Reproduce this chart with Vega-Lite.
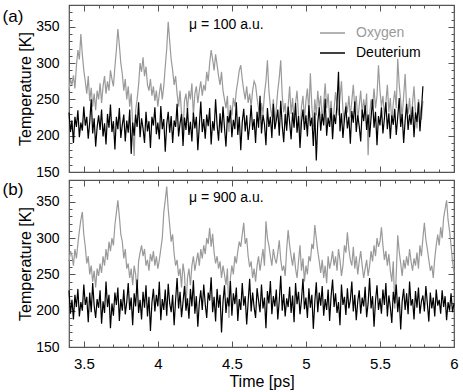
{
"$schema":"https://vega.github.io/schema/vega-lite/v6.json",
"padding":{"left":2,"top":3,"right":8,"bottom":2},
"config":{"font":"Liberation Sans","view":{"stroke":"#555","strokeWidth":1.2},
"axis":{"grid":false,"domain":false,"tickColor":"#555","tickWidth":1,"labelFontSize":15,"titleFontSize":16,"titleFontWeight":"normal","labelColor":"#000","titleColor":"#000","labelFlush":false,"labelOverlap":false,"minExtent":0}},
"datasets":{
"a":[
{"t":3.40,"Oxygen":262,"Deuterium":232},{"t":3.41,"Oxygen":278,"Deuterium":205},{"t":3.42,"Oxygen":270,"Deuterium":221},{"t":3.43,"Oxygen":283,"Deuterium":190},{"t":3.44,"Oxygen":265,"Deuterium":226},{"t":3.45,"Oxygen":296,"Deuterium":212},{"t":3.46,"Oxygen":318,"Deuterium":235},{"t":3.47,"Oxygen":305,"Deuterium":198},{"t":3.48,"Oxygen":340,"Deuterium":218},{"t":3.49,"Oxygen":312,"Deuterium":207},
{"t":3.50,"Oxygen":290,"Deuterium":240},{"t":3.51,"Oxygen":275,"Deuterium":214},{"t":3.52,"Oxygen":258,"Deuterium":226},{"t":3.53,"Oxygen":282,"Deuterium":196},{"t":3.54,"Oxygen":248,"Deuterium":219},{"t":3.55,"Oxygen":266,"Deuterium":250},{"t":3.56,"Oxygen":240,"Deuterium":203},{"t":3.57,"Oxygen":258,"Deuterium":224},{"t":3.58,"Oxygen":235,"Deuterium":185},{"t":3.59,"Oxygen":262,"Deuterium":212},
{"t":3.60,"Oxygen":250,"Deuterium":228},{"t":3.61,"Oxygen":272,"Deuterium":208},{"t":3.62,"Oxygen":245,"Deuterium":236},{"t":3.63,"Oxygen":268,"Deuterium":199},{"t":3.64,"Oxygen":282,"Deuterium":217},{"t":3.65,"Oxygen":258,"Deuterium":188},{"t":3.66,"Oxygen":275,"Deuterium":230},{"t":3.67,"Oxygen":262,"Deuterium":211},{"t":3.68,"Oxygen":290,"Deuterium":243},{"t":3.69,"Oxygen":278,"Deuterium":205},
{"t":3.70,"Oxygen":268,"Deuterium":220},{"t":3.71,"Oxygen":295,"Deuterium":181},{"t":3.72,"Oxygen":318,"Deuterium":226},{"t":3.73,"Oxygen":347,"Deuterium":209},{"t":3.74,"Oxygen":325,"Deuterium":238},{"t":3.75,"Oxygen":300,"Deuterium":197},{"t":3.76,"Oxygen":285,"Deuterium":215},{"t":3.77,"Oxygen":262,"Deuterium":229},{"t":3.78,"Oxygen":278,"Deuterium":192},{"t":3.79,"Oxygen":250,"Deuterium":221},
{"t":3.80,"Oxygen":268,"Deuterium":204},{"t":3.81,"Oxygen":240,"Deuterium":236},{"t":3.82,"Oxygen":258,"Deuterium":175},{"t":3.83,"Oxygen":215,"Deuterium":218},{"t":3.84,"Oxygen":172,"Deuterium":200},{"t":3.85,"Oxygen":235,"Deuterium":229},{"t":3.86,"Oxygen":250,"Deuterium":212},{"t":3.87,"Oxygen":270,"Deuterium":246},{"t":3.88,"Oxygen":300,"Deuterium":198},{"t":3.89,"Oxygen":288,"Deuterium":224},
{"t":3.90,"Oxygen":308,"Deuterium":210},{"t":3.91,"Oxygen":282,"Deuterium":190},{"t":3.92,"Oxygen":295,"Deuterium":233},{"t":3.93,"Oxygen":270,"Deuterium":206},{"t":3.94,"Oxygen":262,"Deuterium":220},{"t":3.95,"Oxygen":278,"Deuterium":183},{"t":3.96,"Oxygen":255,"Deuterium":226},{"t":3.97,"Oxygen":268,"Deuterium":214},{"t":3.98,"Oxygen":248,"Deuterium":239},{"t":3.99,"Oxygen":262,"Deuterium":202},
{"t":4.00,"Oxygen":240,"Deuterium":218},{"t":4.01,"Oxygen":258,"Deuterium":195},{"t":4.02,"Oxygen":272,"Deuterium":241},{"t":4.03,"Oxygen":250,"Deuterium":209},{"t":4.04,"Oxygen":268,"Deuterium":223},{"t":4.05,"Oxygen":295,"Deuterium":178},{"t":4.06,"Oxygen":320,"Deuterium":216},{"t":4.07,"Oxygen":357,"Deuterium":233},{"t":4.08,"Oxygen":330,"Deuterium":204},{"t":4.09,"Oxygen":305,"Deuterium":227},
{"t":4.10,"Oxygen":290,"Deuterium":190},{"t":4.11,"Oxygen":270,"Deuterium":221},{"t":4.12,"Oxygen":282,"Deuterium":212},{"t":4.13,"Oxygen":258,"Deuterium":244},{"t":4.14,"Oxygen":240,"Deuterium":199},{"t":4.15,"Oxygen":262,"Deuterium":217},{"t":4.16,"Oxygen":230,"Deuterium":230},{"t":4.17,"Oxygen":205,"Deuterium":186},{"t":4.18,"Oxygen":248,"Deuterium":225},{"t":4.19,"Oxygen":258,"Deuterium":208},
{"t":4.20,"Oxygen":235,"Deuterium":238},{"t":4.21,"Oxygen":262,"Deuterium":201},{"t":4.22,"Oxygen":250,"Deuterium":219},{"t":4.23,"Oxygen":272,"Deuterium":192},{"t":4.24,"Oxygen":228,"Deuterium":232},{"t":4.25,"Oxygen":258,"Deuterium":210},{"t":4.26,"Oxygen":268,"Deuterium":226},{"t":4.27,"Oxygen":245,"Deuterium":180},{"t":4.28,"Oxygen":262,"Deuterium":214},{"t":4.29,"Oxygen":275,"Deuterium":247},
{"t":4.30,"Oxygen":255,"Deuterium":205},{"t":4.31,"Oxygen":270,"Deuterium":223},{"t":4.32,"Oxygen":262,"Deuterium":196},{"t":4.33,"Oxygen":288,"Deuterium":229},{"t":4.34,"Oxygen":275,"Deuterium":213},{"t":4.35,"Oxygen":300,"Deuterium":238},{"t":4.36,"Oxygen":318,"Deuterium":188},{"t":4.37,"Oxygen":305,"Deuterium":220},{"t":4.38,"Oxygen":290,"Deuterium":207},{"t":4.39,"Oxygen":312,"Deuterium":250},
{"t":4.40,"Oxygen":298,"Deuterium":215},{"t":4.41,"Oxygen":282,"Deuterium":193},{"t":4.42,"Oxygen":270,"Deuterium":231},{"t":4.43,"Oxygen":288,"Deuterium":204},{"t":4.44,"Oxygen":262,"Deuterium":240},{"t":4.45,"Oxygen":250,"Deuterium":211},{"t":4.46,"Oxygen":238,"Deuterium":185},{"t":4.47,"Oxygen":255,"Deuterium":227},{"t":4.48,"Oxygen":205,"Deuterium":218},{"t":4.49,"Oxygen":242,"Deuterium":235},
{"t":4.50,"Oxygen":228,"Deuterium":198},{"t":4.51,"Oxygen":252,"Deuterium":222},{"t":4.52,"Oxygen":240,"Deuterium":209},{"t":4.53,"Oxygen":262,"Deuterium":246},{"t":4.54,"Oxygen":275,"Deuterium":201},{"t":4.55,"Oxygen":290,"Deuterium":226},{"t":4.56,"Oxygen":297,"Deuterium":180},{"t":4.57,"Oxygen":278,"Deuterium":219},{"t":4.58,"Oxygen":262,"Deuterium":237},{"t":4.59,"Oxygen":250,"Deuterium":206},
{"t":4.60,"Oxygen":268,"Deuterium":228},{"t":4.61,"Oxygen":245,"Deuterium":194},{"t":4.62,"Oxygen":258,"Deuterium":214},{"t":4.63,"Oxygen":240,"Deuterium":242},{"t":4.64,"Oxygen":262,"Deuterium":208},{"t":4.65,"Oxygen":275,"Deuterium":223},{"t":4.66,"Oxygen":270,"Deuterium":190},{"t":4.67,"Oxygen":252,"Deuterium":233},{"t":4.68,"Oxygen":238,"Deuterium":211},{"t":4.69,"Oxygen":222,"Deuterium":255},
{"t":4.70,"Oxygen":245,"Deuterium":203},{"t":4.71,"Oxygen":230,"Deuterium":229},{"t":4.72,"Oxygen":258,"Deuterium":216},{"t":4.73,"Oxygen":275,"Deuterium":187},{"t":4.74,"Oxygen":304,"Deuterium":238},{"t":4.75,"Oxygen":262,"Deuterium":212},{"t":4.76,"Oxygen":240,"Deuterium":226},{"t":4.77,"Oxygen":225,"Deuterium":197},{"t":4.78,"Oxygen":250,"Deuterium":244},{"t":4.79,"Oxygen":212,"Deuterium":209},
{"t":4.80,"Oxygen":238,"Deuterium":221},{"t":4.81,"Oxygen":262,"Deuterium":236},{"t":4.82,"Oxygen":280,"Deuterium":200},{"t":4.83,"Oxygen":304,"Deuterium":248},{"t":4.84,"Oxygen":255,"Deuterium":214},{"t":4.85,"Oxygen":232,"Deuterium":191},{"t":4.86,"Oxygen":245,"Deuterium":230},{"t":4.87,"Oxygen":215,"Deuterium":207},{"t":4.88,"Oxygen":240,"Deuterium":240},{"t":4.89,"Oxygen":268,"Deuterium":218},
{"t":4.90,"Oxygen":230,"Deuterium":195},{"t":4.91,"Oxygen":252,"Deuterium":232},{"t":4.92,"Oxygen":218,"Deuterium":211},{"t":4.93,"Oxygen":245,"Deuterium":245},{"t":4.94,"Oxygen":262,"Deuterium":204},{"t":4.95,"Oxygen":228,"Deuterium":227},{"t":4.96,"Oxygen":195,"Deuterium":183},{"t":4.97,"Oxygen":240,"Deuterium":219},{"t":4.98,"Oxygen":255,"Deuterium":236},{"t":4.99,"Oxygen":222,"Deuterium":208},
{"t":5.00,"Oxygen":248,"Deuterium":228},{"t":5.01,"Oxygen":265,"Deuterium":199},{"t":5.02,"Oxygen":232,"Deuterium":242},{"t":5.03,"Oxygen":286,"Deuterium":213},{"t":5.04,"Oxygen":240,"Deuterium":225},{"t":5.05,"Oxygen":212,"Deuterium":186},{"t":5.06,"Oxygen":250,"Deuterium":232},{"t":5.07,"Oxygen":228,"Deuterium":166},{"t":5.08,"Oxygen":262,"Deuterium":218},{"t":5.09,"Oxygen":238,"Deuterium":239},
{"t":5.10,"Oxygen":255,"Deuterium":207},{"t":5.11,"Oxygen":220,"Deuterium":230},{"t":5.12,"Oxygen":245,"Deuterium":214},{"t":5.13,"Oxygen":272,"Deuterium":251},{"t":5.14,"Oxygen":238,"Deuterium":200},{"t":5.15,"Oxygen":258,"Deuterium":225},{"t":5.16,"Oxygen":225,"Deuterium":212},{"t":5.17,"Oxygen":248,"Deuterium":238},{"t":5.18,"Oxygen":212,"Deuterium":195},{"t":5.19,"Oxygen":236,"Deuterium":229},
{"t":5.20,"Oxygen":260,"Deuterium":216},{"t":5.21,"Oxygen":242,"Deuterium":244},{"t":5.22,"Oxygen":228,"Deuterium":288},{"t":5.23,"Oxygen":252,"Deuterium":206},{"t":5.24,"Oxygen":275,"Deuterium":231},{"t":5.25,"Oxygen":235,"Deuterium":197},{"t":5.26,"Oxygen":218,"Deuterium":223},{"t":5.27,"Oxygen":246,"Deuterium":240},{"t":5.28,"Oxygen":232,"Deuterium":210},{"t":5.29,"Oxygen":255,"Deuterium":226},
{"t":5.30,"Oxygen":225,"Deuterium":189},{"t":5.31,"Oxygen":248,"Deuterium":234},{"t":5.32,"Oxygen":270,"Deuterium":218},{"t":5.33,"Oxygen":238,"Deuterium":247},{"t":5.34,"Oxygen":255,"Deuterium":205},{"t":5.35,"Oxygen":220,"Deuterium":228},{"t":5.36,"Oxygen":242,"Deuterium":213},{"t":5.37,"Oxygen":262,"Deuterium":192},{"t":5.38,"Oxygen":230,"Deuterium":236},{"t":5.39,"Oxygen":250,"Deuterium":220},
{"t":5.40,"Oxygen":235,"Deuterium":242},{"t":5.41,"Oxygen":258,"Deuterium":208},{"t":5.42,"Oxygen":173,"Deuterium":229},{"t":5.43,"Oxygen":228,"Deuterium":198},{"t":5.44,"Oxygen":250,"Deuterium":225},{"t":5.45,"Oxygen":240,"Deuterium":250},{"t":5.46,"Oxygen":265,"Deuterium":211},{"t":5.47,"Oxygen":238,"Deuterium":233},{"t":5.48,"Oxygen":255,"Deuterium":187},{"t":5.49,"Oxygen":297,"Deuterium":227},
{"t":5.50,"Oxygen":262,"Deuterium":214},{"t":5.51,"Oxygen":240,"Deuterium":239},{"t":5.52,"Oxygen":255,"Deuterium":203},{"t":5.53,"Oxygen":228,"Deuterium":224},{"t":5.54,"Oxygen":246,"Deuterium":246},{"t":5.55,"Oxygen":270,"Deuterium":209},{"t":5.56,"Oxygen":232,"Deuterium":231},{"t":5.57,"Oxygen":252,"Deuterium":196},{"t":5.58,"Oxygen":218,"Deuterium":228},{"t":5.59,"Oxygen":245,"Deuterium":215},
{"t":5.60,"Oxygen":262,"Deuterium":237},{"t":5.61,"Oxygen":238,"Deuterium":201},{"t":5.62,"Oxygen":306,"Deuterium":226},{"t":5.63,"Oxygen":270,"Deuterium":252},{"t":5.64,"Oxygen":248,"Deuterium":212},{"t":5.65,"Oxygen":225,"Deuterium":230},{"t":5.66,"Oxygen":255,"Deuterium":190},{"t":5.67,"Oxygen":285,"Deuterium":221},{"t":5.68,"Oxygen":240,"Deuterium":244},{"t":5.69,"Oxygen":230,"Deuterium":208},
{"t":5.70,"Oxygen":252,"Deuterium":229},{"t":5.71,"Oxygen":218,"Deuterium":215},{"t":5.72,"Oxygen":245,"Deuterium":240},{"t":5.73,"Oxygen":268,"Deuterium":198},{"t":5.74,"Oxygen":232,"Deuterium":232},{"t":5.75,"Oxygen":210,"Deuterium":219},{"t":5.76,"Oxygen":250,"Deuterium":246},{"t":5.77,"Oxygen":238,"Deuterium":206},{"t":5.78,"Oxygen":222,"Deuterium":235},{"t":5.79,"Oxygen":248,"Deuterium":268}
],
"b":[
{"t":3.40,"Oxygen":268,"Deuterium":228},{"t":3.41,"Oxygen":282,"Deuterium":196},{"t":3.42,"Oxygen":276,"Deuterium":215},{"t":3.43,"Oxygen":262,"Deuterium":188},{"t":3.44,"Oxygen":285,"Deuterium":222},{"t":3.45,"Oxygen":272,"Deuterium":205},{"t":3.46,"Oxygen":292,"Deuterium":230},{"t":3.47,"Oxygen":310,"Deuterium":192},{"t":3.48,"Oxygen":325,"Deuterium":212},{"t":3.49,"Oxygen":336,"Deuterium":200},
{"t":3.50,"Oxygen":305,"Deuterium":236},{"t":3.51,"Oxygen":288,"Deuterium":208},{"t":3.52,"Oxygen":265,"Deuterium":219},{"t":3.53,"Oxygen":275,"Deuterium":184},{"t":3.54,"Oxygen":250,"Deuterium":225},{"t":3.55,"Oxygen":262,"Deuterium":198},{"t":3.56,"Oxygen":240,"Deuterium":238},{"t":3.57,"Oxygen":255,"Deuterium":207},{"t":3.58,"Oxygen":232,"Deuterium":190},{"t":3.59,"Oxygen":258,"Deuterium":216},
{"t":3.60,"Oxygen":248,"Deuterium":204},{"t":3.61,"Oxygen":265,"Deuterium":228},{"t":3.62,"Oxygen":252,"Deuterium":182},{"t":3.63,"Oxygen":275,"Deuterium":213},{"t":3.64,"Oxygen":262,"Deuterium":197},{"t":3.65,"Oxygen":285,"Deuterium":240},{"t":3.66,"Oxygen":270,"Deuterium":205},{"t":3.67,"Oxygen":295,"Deuterium":222},{"t":3.68,"Oxygen":282,"Deuterium":176},{"t":3.69,"Oxygen":300,"Deuterium":210},
{"t":3.70,"Oxygen":290,"Deuterium":193},{"t":3.71,"Oxygen":318,"Deuterium":225},{"t":3.72,"Oxygen":335,"Deuterium":208},{"t":3.73,"Oxygen":352,"Deuterium":232},{"t":3.74,"Oxygen":330,"Deuterium":186},{"t":3.75,"Oxygen":305,"Deuterium":216},{"t":3.76,"Oxygen":295,"Deuterium":200},{"t":3.77,"Oxygen":272,"Deuterium":229},{"t":3.78,"Oxygen":285,"Deuterium":195},{"t":3.79,"Oxygen":258,"Deuterium":212},
{"t":3.80,"Oxygen":265,"Deuterium":238},{"t":3.81,"Oxygen":245,"Deuterium":201},{"t":3.82,"Oxygen":258,"Deuterium":218},{"t":3.83,"Oxygen":235,"Deuterium":180},{"t":3.84,"Oxygen":262,"Deuterium":224},{"t":3.85,"Oxygen":250,"Deuterium":206},{"t":3.86,"Oxygen":225,"Deuterium":243},{"t":3.87,"Oxygen":268,"Deuterium":197},{"t":3.88,"Oxygen":280,"Deuterium":215},{"t":3.89,"Oxygen":290,"Deuterium":188},
{"t":3.90,"Oxygen":275,"Deuterium":226},{"t":3.91,"Oxygen":285,"Deuterium":204},{"t":3.92,"Oxygen":262,"Deuterium":235},{"t":3.93,"Oxygen":270,"Deuterium":192},{"t":3.94,"Oxygen":255,"Deuterium":219},{"t":3.95,"Oxygen":278,"Deuterium":172},{"t":3.96,"Oxygen":268,"Deuterium":211},{"t":3.97,"Oxygen":282,"Deuterium":230},{"t":3.98,"Oxygen":262,"Deuterium":199},{"t":3.99,"Oxygen":275,"Deuterium":222},
{"t":4.00,"Oxygen":258,"Deuterium":206},{"t":4.01,"Oxygen":270,"Deuterium":240},{"t":4.02,"Oxygen":285,"Deuterium":187},{"t":4.03,"Oxygen":300,"Deuterium":216},{"t":4.04,"Oxygen":335,"Deuterium":201},{"t":4.05,"Oxygen":352,"Deuterium":229},{"t":4.06,"Oxygen":371,"Deuterium":193},{"t":4.07,"Oxygen":340,"Deuterium":237},{"t":4.08,"Oxygen":318,"Deuterium":210},{"t":4.09,"Oxygen":295,"Deuterium":198},
{"t":4.10,"Oxygen":305,"Deuterium":222},{"t":4.11,"Oxygen":278,"Deuterium":180},{"t":4.12,"Oxygen":262,"Deuterium":215},{"t":4.13,"Oxygen":270,"Deuterium":245},{"t":4.14,"Oxygen":248,"Deuterium":203},{"t":4.15,"Oxygen":258,"Deuterium":226},{"t":4.16,"Oxygen":232,"Deuterium":191},{"t":4.17,"Oxygen":265,"Deuterium":212},{"t":4.18,"Oxygen":250,"Deuterium":234},{"t":4.19,"Oxygen":205,"Deuterium":200},
{"t":4.20,"Oxygen":245,"Deuterium":217},{"t":4.21,"Oxygen":258,"Deuterium":189},{"t":4.22,"Oxygen":235,"Deuterium":230},{"t":4.23,"Oxygen":262,"Deuterium":206},{"t":4.24,"Oxygen":275,"Deuterium":242},{"t":4.25,"Oxygen":255,"Deuterium":196},{"t":4.26,"Oxygen":268,"Deuterium":220},{"t":4.27,"Oxygen":280,"Deuterium":178},{"t":4.28,"Oxygen":262,"Deuterium":211},{"t":4.29,"Oxygen":285,"Deuterium":228},
{"t":4.30,"Oxygen":272,"Deuterium":201},{"t":4.31,"Oxygen":290,"Deuterium":236},{"t":4.32,"Oxygen":278,"Deuterium":209},{"t":4.33,"Oxygen":300,"Deuterium":190},{"t":4.34,"Oxygen":292,"Deuterium":225},{"t":4.35,"Oxygen":314,"Deuterium":214},{"t":4.36,"Oxygen":288,"Deuterium":246},{"t":4.37,"Oxygen":306,"Deuterium":198},{"t":4.38,"Oxygen":280,"Deuterium":219},{"t":4.39,"Oxygen":265,"Deuterium":185},
{"t":4.40,"Oxygen":275,"Deuterium":230},{"t":4.41,"Oxygen":258,"Deuterium":204},{"t":4.42,"Oxygen":268,"Deuterium":222},{"t":4.43,"Oxygen":245,"Deuterium":170},{"t":4.44,"Oxygen":262,"Deuterium":212},{"t":4.45,"Oxygen":250,"Deuterium":235},{"t":4.46,"Oxygen":235,"Deuterium":197},{"t":4.47,"Oxygen":258,"Deuterium":218},{"t":4.48,"Oxygen":190,"Deuterium":206},{"t":4.49,"Oxygen":245,"Deuterium":241},
{"t":4.50,"Oxygen":262,"Deuterium":193},{"t":4.51,"Oxygen":250,"Deuterium":224},{"t":4.52,"Oxygen":275,"Deuterium":209},{"t":4.53,"Oxygen":265,"Deuterium":232},{"t":4.54,"Oxygen":282,"Deuterium":186},{"t":4.55,"Oxygen":295,"Deuterium":216},{"t":4.56,"Oxygen":288,"Deuterium":201},{"t":4.57,"Oxygen":305,"Deuterium":238},{"t":4.58,"Oxygen":321,"Deuterium":207},{"t":4.59,"Oxygen":292,"Deuterium":220},
{"t":4.60,"Oxygen":300,"Deuterium":181},{"t":4.61,"Oxygen":275,"Deuterium":213},{"t":4.62,"Oxygen":260,"Deuterium":244},{"t":4.63,"Oxygen":268,"Deuterium":199},{"t":4.64,"Oxygen":245,"Deuterium":225},{"t":4.65,"Oxygen":258,"Deuterium":205},{"t":4.66,"Oxygen":240,"Deuterium":190},{"t":4.67,"Oxygen":262,"Deuterium":231},{"t":4.68,"Oxygen":275,"Deuterium":214},{"t":4.69,"Oxygen":255,"Deuterium":198},
{"t":4.70,"Oxygen":270,"Deuterium":236},{"t":4.71,"Oxygen":285,"Deuterium":203},{"t":4.72,"Oxygen":262,"Deuterium":218},{"t":4.73,"Oxygen":323,"Deuterium":176},{"t":4.74,"Oxygen":300,"Deuterium":227},{"t":4.75,"Oxygen":290,"Deuterium":210},{"t":4.76,"Oxygen":275,"Deuterium":241},{"t":4.77,"Oxygen":262,"Deuterium":195},{"t":4.78,"Oxygen":285,"Deuterium":220},{"t":4.79,"Oxygen":272,"Deuterium":206},
{"t":4.80,"Oxygen":265,"Deuterium":229},{"t":4.81,"Oxygen":280,"Deuterium":188},{"t":4.82,"Oxygen":297,"Deuterium":214},{"t":4.83,"Oxygen":270,"Deuterium":248},{"t":4.84,"Oxygen":255,"Deuterium":200},{"t":4.85,"Oxygen":262,"Deuterium":223},{"t":4.86,"Oxygen":248,"Deuterium":192},{"t":4.87,"Oxygen":285,"Deuterium":217},{"t":4.88,"Oxygen":311,"Deuterium":205},{"t":4.89,"Oxygen":290,"Deuterium":233},
{"t":4.90,"Oxygen":275,"Deuterium":197},{"t":4.91,"Oxygen":262,"Deuterium":221},{"t":4.92,"Oxygen":280,"Deuterium":184},{"t":4.93,"Oxygen":258,"Deuterium":238},{"t":4.94,"Oxygen":245,"Deuterium":209},{"t":4.95,"Oxygen":268,"Deuterium":226},{"t":4.96,"Oxygen":290,"Deuterium":195},{"t":4.97,"Oxygen":255,"Deuterium":215},{"t":4.98,"Oxygen":272,"Deuterium":244},{"t":4.99,"Oxygen":240,"Deuterium":202},
{"t":5.00,"Oxygen":262,"Deuterium":218},{"t":5.01,"Oxygen":250,"Deuterium":190},{"t":5.02,"Oxygen":275,"Deuterium":231},{"t":5.03,"Oxygen":268,"Deuterium":204},{"t":5.04,"Oxygen":292,"Deuterium":222},{"t":5.05,"Oxygen":285,"Deuterium":175},{"t":5.06,"Oxygen":318,"Deuterium":212},{"t":5.07,"Oxygen":300,"Deuterium":239},{"t":5.08,"Oxygen":282,"Deuterium":198},{"t":5.09,"Oxygen":268,"Deuterium":225},
{"t":5.10,"Oxygen":252,"Deuterium":207},{"t":5.11,"Oxygen":270,"Deuterium":234},{"t":5.12,"Oxygen":245,"Deuterium":193},{"t":5.13,"Oxygen":262,"Deuterium":216},{"t":5.14,"Oxygen":238,"Deuterium":201},{"t":5.15,"Oxygen":275,"Deuterium":229},{"t":5.16,"Oxygen":258,"Deuterium":186},{"t":5.17,"Oxygen":268,"Deuterium":220},{"t":5.18,"Oxygen":282,"Deuterium":243},{"t":5.19,"Oxygen":262,"Deuterium":205},
{"t":5.20,"Oxygen":275,"Deuterium":224},{"t":5.21,"Oxygen":255,"Deuterium":197},{"t":5.22,"Oxygen":285,"Deuterium":212},{"t":5.23,"Oxygen":270,"Deuterium":180},{"t":5.24,"Oxygen":248,"Deuterium":236},{"t":5.25,"Oxygen":262,"Deuterium":208},{"t":5.26,"Oxygen":290,"Deuterium":219},{"t":5.27,"Oxygen":280,"Deuterium":194},{"t":5.28,"Oxygen":308,"Deuterium":231},{"t":5.29,"Oxygen":285,"Deuterium":203},
{"t":5.30,"Oxygen":270,"Deuterium":215},{"t":5.31,"Oxygen":262,"Deuterium":240},{"t":5.32,"Oxygen":288,"Deuterium":199},{"t":5.33,"Oxygen":258,"Deuterium":222},{"t":5.34,"Oxygen":275,"Deuterium":187},{"t":5.35,"Oxygen":250,"Deuterium":213},{"t":5.36,"Oxygen":268,"Deuterium":228},{"t":5.37,"Oxygen":282,"Deuterium":196},{"t":5.38,"Oxygen":262,"Deuterium":218},{"t":5.39,"Oxygen":245,"Deuterium":206},
{"t":5.40,"Oxygen":258,"Deuterium":233},{"t":5.41,"Oxygen":270,"Deuterium":191},{"t":5.42,"Oxygen":248,"Deuterium":210},{"t":5.43,"Oxygen":262,"Deuterium":245},{"t":5.44,"Oxygen":282,"Deuterium":203},{"t":5.45,"Oxygen":268,"Deuterium":220},{"t":5.46,"Oxygen":290,"Deuterium":178},{"t":5.47,"Oxygen":275,"Deuterium":214},{"t":5.48,"Oxygen":300,"Deuterium":235},{"t":5.49,"Oxygen":288,"Deuterium":201},
{"t":5.50,"Oxygen":295,"Deuterium":217},{"t":5.51,"Oxygen":315,"Deuterium":196},{"t":5.52,"Oxygen":290,"Deuterium":229},{"t":5.53,"Oxygen":270,"Deuterium":208},{"t":5.54,"Oxygen":282,"Deuterium":238},{"t":5.55,"Oxygen":262,"Deuterium":192},{"t":5.56,"Oxygen":278,"Deuterium":221},{"t":5.57,"Oxygen":255,"Deuterium":205},{"t":5.58,"Oxygen":240,"Deuterium":183},{"t":5.59,"Oxygen":268,"Deuterium":226},
{"t":5.60,"Oxygen":203,"Deuterium":210},{"t":5.61,"Oxygen":250,"Deuterium":236},{"t":5.62,"Oxygen":304,"Deuterium":198},{"t":5.63,"Oxygen":282,"Deuterium":219},{"t":5.64,"Oxygen":265,"Deuterium":174},{"t":5.65,"Oxygen":248,"Deuterium":213},{"t":5.66,"Oxygen":270,"Deuterium":230},{"t":5.67,"Oxygen":258,"Deuterium":201},{"t":5.68,"Oxygen":275,"Deuterium":224},{"t":5.69,"Oxygen":262,"Deuterium":195},
{"t":5.70,"Oxygen":285,"Deuterium":240},{"t":5.71,"Oxygen":268,"Deuterium":207},{"t":5.72,"Oxygen":255,"Deuterium":216},{"t":5.73,"Oxygen":272,"Deuterium":188},{"t":5.74,"Oxygen":262,"Deuterium":227},{"t":5.75,"Oxygen":280,"Deuterium":204},{"t":5.76,"Oxygen":258,"Deuterium":232},{"t":5.77,"Oxygen":290,"Deuterium":196},{"t":5.78,"Oxygen":275,"Deuterium":213},{"t":5.79,"Oxygen":300,"Deuterium":221},
{"t":5.80,"Oxygen":321,"Deuterium":199},{"t":5.81,"Oxygen":298,"Deuterium":234},{"t":5.82,"Oxygen":285,"Deuterium":210},{"t":5.83,"Oxygen":270,"Deuterium":185},{"t":5.84,"Oxygen":255,"Deuterium":225},{"t":5.85,"Oxygen":262,"Deuterium":203},{"t":5.86,"Oxygen":245,"Deuterium":218},{"t":5.87,"Oxygen":272,"Deuterium":192},{"t":5.88,"Oxygen":290,"Deuterium":229},{"t":5.89,"Oxygen":305,"Deuterium":207},
{"t":5.90,"Oxygen":290,"Deuterium":215},{"t":5.91,"Oxygen":315,"Deuterium":196},{"t":5.92,"Oxygen":300,"Deuterium":228},{"t":5.93,"Oxygen":328,"Deuterium":205},{"t":5.94,"Oxygen":340,"Deuterium":220},{"t":5.95,"Oxygen":352,"Deuterium":187},{"t":5.96,"Oxygen":325,"Deuterium":212},{"t":5.97,"Oxygen":310,"Deuterium":200},{"t":5.98,"Oxygen":290,"Deuterium":224},{"t":5.99,"Oxygen":268,"Deuterium":198},
{"t":6.00,"Oxygen":253,"Deuterium":210}
]},
"spacing":-2,
"resolve":{"legend":{"color":"independent"}},
"vconcat":[
{"width":385,"height":167,
"layer":[
{"data":{"name":"a"},"transform":[{"fold":["Oxygen","Deuterium"],"as":["series","T"]}],
"mark":{"type":"line","strokeWidth":1.2},
"encoding":{
"x":{"field":"t","type":"quantitative","scale":{"domain":[3.4,6.0],"nice":false,"zero":false},
"axis":{"orient":"bottom","values":[3.4,3.5,3.6,3.7,3.8,3.9,4,4.1,4.2,4.3,4.4,4.5,4.6,4.7,4.8,4.9,5,5.1,5.2,5.3,5.4,5.5,5.6,5.7,5.8,5.9,6],"labels":false,"title":null,"tickSize":{"condition":{"test":"abs(datum.value*2-round(datum.value*2))<0.001","value":-6},"value":-3}}},
"y":{"field":"T","type":"quantitative","scale":{"domain":[150,380],"nice":false,"zero":false},
"axis":{"orient":"left","values":[150,160,170,180,190,200,210,220,230,240,250,260,270,280,290,300,310,320,330,340,350,360,370,380],"format":"d","labelFontSize":14,"labelExpr":"datum.value % 50 === 0 ? datum.label : ''","labelBaseline":{"condition":{"test":"datum.value > 375","value":"top"},"value":"middle"},"tickSize":{"condition":{"test":"datum.value % 50 === 0","value":-6},"value":-3},"labelPadding":16,"title":"Temperature [K]","titlePadding":2}},
"color":{"field":"series","type":"nominal","scale":{"domain":["Oxygen","Deuterium"],"range":["#9a9a9a","#000000"]},
"legend":{"orient":"none","legendX":250,"legendY":18,"padding":0,"offset":0,"direction":"vertical","title":null,"labelFontSize":14,"symbolType":"stroke","symbolSize":625,"symbolStrokeWidth":1.5,"clipHeight":20,"labelOffset":10,"rowPadding":-2,"labelColor":{"expr":"datum.value === 'Oxygen' ? '#9a9a9a' : '#000000'"}}}
}},
{"data":{"values":[{}]},"mark":{"type":"text","fontSize":14,"align":"left","baseline":"middle"},
"encoding":{
"x":{"datum":4.21,"type":"quantitative","axis":{"orient":"top","values":[3.4,3.5,3.6,3.7,3.8,3.9,4,4.1,4.2,4.3,4.4,4.5,4.6,4.7,4.8,4.9,5,5.1,5.2,5.3,5.4,5.5,5.6,5.7,5.8,5.9,6],"labels":false,"title":null,"tickSize":{"condition":{"test":"abs(datum.value*2-round(datum.value*2))<0.001","value":-6},"value":-3}}},
"y":{"datum":353,"type":"quantitative","axis":{"orient":"right","values":[150,160,170,180,190,200,210,220,230,240,250,260,270,280,290,300,310,320,330,340,350,360,370,380],"labels":false,"title":null,"tickSize":{"condition":{"test":"datum.value % 50 === 0","value":-6},"value":-3}}},
"text":{"value":"μ = 100 a.u."}}},
{"data":{"values":[{}]},"mark":{"type":"text","fontSize":17,"align":"center","baseline":"middle","dx":-56,"dy":12},
"encoding":{"x":{"datum":3.4,"type":"quantitative","axis":null},"y":{"datum":380,"type":"quantitative","axis":null},"text":{"value":"(a)"}}}
],
"resolve":{"axis":{"x":"independent","y":"independent"}}
},
{"width":385,"height":167,
"layer":[
{"data":{"name":"b"},"transform":[{"fold":["Oxygen","Deuterium"],"as":["series","T"]}],
"mark":{"type":"line","strokeWidth":1.2},
"encoding":{
"x":{"field":"t","type":"quantitative","scale":{"domain":[3.4,6.0],"nice":false,"zero":false},
"axis":{"orient":"bottom","values":[3.4,3.5,3.6,3.7,3.8,3.9,4,4.1,4.2,4.3,4.4,4.5,4.6,4.7,4.8,4.9,5,5.1,5.2,5.3,5.4,5.5,5.6,5.7,5.8,5.9,6],"format":"~g","labelExpr":"abs(datum.value*2-round(datum.value*2))<0.001 ? datum.label : ''","labelPadding":15,"title":"Time [ps]","titlePadding":-1,"tickSize":{"condition":{"test":"abs(datum.value*2-round(datum.value*2))<0.001","value":-6},"value":-3}}},
"y":{"field":"T","type":"quantitative","scale":{"domain":[150,380],"nice":false,"zero":false},
"axis":{"orient":"left","values":[150,160,170,180,190,200,210,220,230,240,250,260,270,280,290,300,310,320,330,340,350,360,370,380],"format":"d","labelFontSize":14,"labelExpr":"datum.value % 50 === 0 ? datum.label : ''","labelBaseline":{"condition":{"test":"datum.value > 375","value":"top"},"value":"middle"},"tickSize":{"condition":{"test":"datum.value % 50 === 0","value":-6},"value":-3},"labelPadding":16,"title":"Temperature [K]","titlePadding":2}},
"color":{"field":"series","type":"nominal","scale":{"domain":["Oxygen","Deuterium"],"range":["#9a9a9a","#000000"]},"legend":null}
}},
{"data":{"values":[{}]},"mark":{"type":"text","fontSize":14,"align":"left","baseline":"middle"},
"encoding":{
"x":{"datum":4.21,"type":"quantitative","axis":{"orient":"top","values":[3.4,3.5,3.6,3.7,3.8,3.9,4,4.1,4.2,4.3,4.4,4.5,4.6,4.7,4.8,4.9,5,5.1,5.2,5.3,5.4,5.5,5.6,5.7,5.8,5.9,6],"labels":false,"title":null,"tickSize":{"condition":{"test":"abs(datum.value*2-round(datum.value*2))<0.001","value":-6},"value":-3}}},
"y":{"datum":355,"type":"quantitative","axis":{"orient":"right","values":[150,160,170,180,190,200,210,220,230,240,250,260,270,280,290,300,310,320,330,340,350,360,370,380],"labels":false,"title":null,"tickSize":{"condition":{"test":"datum.value % 50 === 0","value":-6},"value":-3}}},
"text":{"value":"μ = 900 a.u."}}},
{"data":{"values":[{}]},"mark":{"type":"text","fontSize":17,"align":"center","baseline":"middle","dx":-56,"dy":10},
"encoding":{"x":{"datum":3.4,"type":"quantitative","axis":null},"y":{"datum":380,"type":"quantitative","axis":null},"text":{"value":"(b)"}}}
],
"resolve":{"axis":{"x":"independent","y":"independent"}}
}
]
}
